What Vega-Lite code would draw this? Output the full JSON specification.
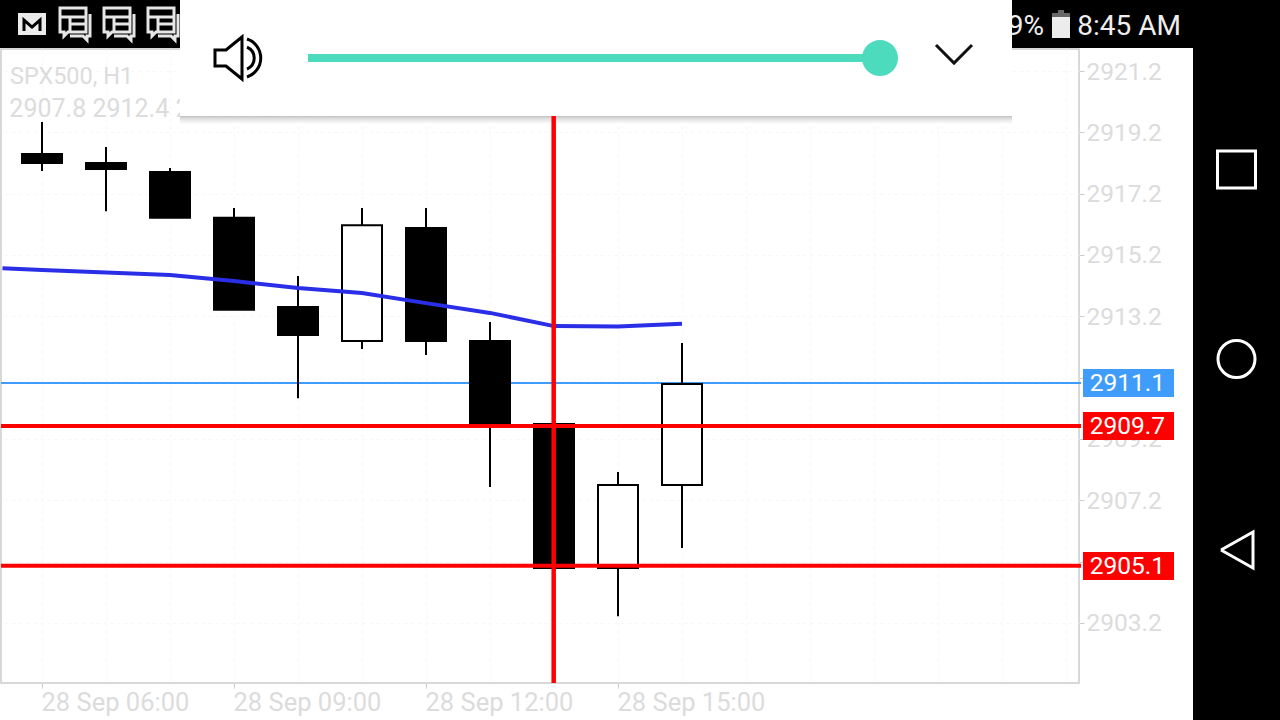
{
"$schema":"https://vega.github.io/schema/vega-lite/v6.json",
"width":1078,"height":634,
"autosize":{"type":"none"},
"padding":{"left":1,"top":49,"right":201,"bottom":37},
"background":"#ffffff",
"config":{"view":{"stroke":"#cccccc","strokeWidth":1.5},"text":{"font":"Roboto"}},
"datasets":{
"candles":[
{"hour":6,"open":2918.49,"high":2919.54,"low":2917.94,"close":2918.2},
{"hour":7,"open":2918.2,"high":2918.72,"low":2916.63,"close":2918.0},
{"hour":8,"open":2917.91,"high":2918.04,"low":2916.41,"close":2916.41},
{"hour":9,"open":2916.41,"high":2916.73,"low":2913.41,"close":2913.41},
{"hour":10,"open":2913.5,"high":2914.51,"low":2910.53,"close":2912.59},
{"hour":11,"open":2912.39,"high":2916.73,"low":2912.13,"close":2916.17},
{"hour":12,"open":2916.08,"high":2916.73,"low":2911.94,"close":2912.39},
{"hour":13,"open":2912.39,"high":2913.01,"low":2907.63,"close":2909.69},
{"hour":14,"open":2909.69,"high":2909.69,"low":2904.99,"close":2904.99},
{"hour":15,"open":2904.99,"high":2908.12,"low":2903.42,"close":2907.7},
{"hour":16,"open":2907.7,"high":2912.33,"low":2905.64,"close":2910.99}
],
"ma":[
{"hour":5.3828,"price":2914.77},
{"hour":6,"price":2914.71},
{"hour":7,"price":2914.63},
{"hour":8,"price":2914.55},
{"hour":9,"price":2914.35},
{"hour":10,"price":2914.12},
{"hour":11,"price":2913.96},
{"hour":12,"price":2913.63},
{"hour":13,"price":2913.31},
{"hour":14,"price":2912.88},
{"hour":15,"price":2912.87},
{"hour":16,"price":2912.96}
],
"levels":[
{"price":2911.02,"kind":"bid","hour":5.36,"hour2":22.234},
{"price":2909.62,"kind":"alert","hour":5.36,"hour2":22.234},
{"price":2905.06,"kind":"alert","hour":5.36,"hour2":22.234}
],
"crosshair":[{"hour":13.995,"low":2901.24,"high":2921.9}],
"under":[
{"part":"bar","hour":5.03125,"hour2":25.65625,"price":2924.168,"price2":2921.95},
{"part":"bar","hour":23.984375,"hour2":25.65625,"price":2924.168,"price2":2899.38},
{"part":"blue","hour":22.265625,"hour2":23.6875,"price":2911.48,"price2":2910.567},
{"part":"red","hour":22.265625,"hour2":23.6875,"price":2910.078,"price2":2909.165},
{"part":"red","hour":22.265625,"hour2":23.6875,"price":2905.512,"price2":2904.599},
{"part":"battery","hour":21.78125,"hour2":22.0625,"price":2922.961,"price2":2922.276},
{"part":"batterytop","hour":21.78125,"hour2":22.0625,"price":2923.092,"price2":2922.961},
{"part":"batterytop","hour":21.875,"hour2":21.96875,"price":2923.19,"price2":2923.092},
{"part":"battery","hour":5.625,"hour2":6.0625,"price":2923.092,"price2":2922.374}
],
"tags":[
{"hour":22.96,"price":2910.991,"label":"2911.1"},
{"hour":22.96,"price":2909.589,"label":"2909.7"},
{"hour":22.96,"price":2905.023,"label":"2905.1"}
],
"symbolText":[{"hour":5.5,"price":2921.004,"label":"SPX500, H1"}],
"ohlcText":[{"hour":5.49,"price":2919.961,"label":"2907.8 2912.4 2905.1 2911.1"}],
"mail":[{"hour":5.71875,"price":2922.505},{"hour":5.71875,"price":2922.863},{"hour":5.84375,"price":2922.635},{"hour":5.96875,"price":2922.863},{"hour":5.96875,"price":2922.505}],
"chats":[{"hour":6.484375,"price":2922.863},{"hour":7.171875,"price":2922.863},{"hour":7.859375,"price":2922.863}],
"panel":[{"hour":8.15625,"hour2":21.15625,"price":2924.168,"price2":2919.732}],
"shadow":[{"hour":8.15625,"hour2":21.15625,"price":2919.732,"price2":2919.471}],
"slider":[{"hour":10.15625,"hour2":19.09375,"price":2921.754,"price2":2921.494}],
"knob":[{"hour":19.09375,"price":2921.624}],
"speaker":[{"hour":9.0625,"price":2921.624}],
"chevron":[{"hour":19.96875,"price":2922.048},{"hour":20.25,"price":2921.461},{"hour":20.53125,"price":2922.048}],
"square":[{"hour":24.3671875,"hour2":24.9609375,"price":2918.591,"price2":2917.384}],
"circle":[{"hour":24.6640625,"price":2911.807}],
"triangle":[{"hour":24.421875,"price":2905.577},{"hour":24.921875,"price":2906.164},{"hour":24.921875,"price":2904.99},{"hour":24.421875,"price":2905.577}],
"status":[{"hour":21.65625,"price":2922.651,"label":"9%"},{"hour":23.796875,"price":2922.651,"label":"8:45 AM"}]
},
"encoding":{
 "x":{"field":"hour","type":"quantitative","title":null,"scale":{"domain":[5.359375,22.203125],"nice":false,"zero":false,"padding":0},
   "axis":{"title":null,"orient":"bottom","values":[6,7,8,9,10,11,12,13,14,15,16,17,18,19,20,21,22],"domain":false,"tickSize":5,"tickColor":"#cccccc","tickOpacity":{"condition":{"test":"datum.value % 3 == 0 && datum.value <= 15","value":1},"value":0},"labelExpr":"datum.value % 3 == 0 && datum.value <= 15 ? '28 Sep ' + (datum.value < 10 ? '0' : '') + datum.value + ':00' : ''","labelFont":"Roboto","labelFontSize":25.5,"labelColor":"#dcdcdc","labelAlign":"left","labelBaseline":"middle","labelPadding":14,"labelOffset":-1,"labelOverlap":false,"labelFlush":false,"grid":true,"gridColor":"#f6f6f6","gridDash":[3,4],"gridWidth":1}},
 "y":{"field":"price","type":"quantitative","title":null,"scale":{"domain":[2901.239,2921.918],"nice":false,"zero":false},
  "axis":{"title":null,"orient":"right","values":[2921.2,2919.2,2917.2,2915.2,2913.2,2911.2,2909.2,2907.2,2905.2,2903.2],"format":".1f","domain":false,"tickColor":"#cccccc","tickSize":5,"labelFont":"Roboto","labelFontSize":24.5,"labelColor":"#dcdcdc","labelPadding":2,"labelAlign":"left","labelBaseline":"middle","labelOffset":1,"labelOverlap":false,"grid":true,"gridColor":"#f6f6f6","gridDash":[3,4],"gridWidth":1}}
},
"layer":[
{"data":{"name":"levels"},"transform":[{"filter":"datum.kind == 'bid'"}],
 "mark":{"type":"rule","color":"#3f9cfa","strokeWidth":2},
 "encoding":{"x2":{"field":"hour2"}}},
{"data":{"name":"candles"},"mark":{"type":"rule","color":"#000000","strokeWidth":2},
 "encoding":{"y":{"field":"low","type":"quantitative","title":null},"y2":{"field":"high"}}},
{"data":{"name":"candles"},"mark":{"type":"bar","size":40,"stroke":"#000000","strokeWidth":2},
 "encoding":{"y":{"field":"open","type":"quantitative","title":null},"y2":{"field":"close"},
  "color":{"condition":{"test":"datum.close > datum.open","value":"#ffffff"},"value":"#000000"}}},
{"data":{"name":"ma"},"mark":{"type":"line","color":"#2a2ee6","strokeWidth":4}},
{"data":{"name":"levels"},"transform":[{"filter":"datum.kind == 'alert'"}],
 "mark":{"type":"rule","color":"#ff0000","strokeWidth":4},
 "encoding":{"x2":{"field":"hour2"}}},
{"data":{"name":"symbolText"},"mark":{"type":"text","align":"left","baseline":"middle","font":"Roboto","fontSize":23.5,"color":"#dcdcdc"},"encoding":{"text":{"field":"label"}}},
{"data":{"name":"ohlcText"},"mark":{"type":"text","align":"left","baseline":"middle","font":"Roboto","fontSize":25,"color":"#dcdcdc"},"encoding":{"text":{"field":"label"}}},
{"data":{"name":"under"},"mark":{"type":"rect"},
 "encoding":{"x2":{"field":"hour2"},"y2":{"field":"price2"},
 "color":{"field":"part","type":"nominal","legend":null,"scale":{"domain":["bar","blue","red","battery","batterytop"],"range":["#000000","#3f9cfa","#ff0000","#ececec","#666666"]}}}},
{"data":{"name":"tags"},"mark":{"type":"text","align":"center","baseline":"middle","font":"Roboto","fontSize":24.5,"color":"#ffffff"},"encoding":{"text":{"field":"label"}}},
{"data":{"name":"status"},"mark":{"type":"text","align":"right","baseline":"middle","font":"Roboto","fontSize":28,"color":"#eeeeee"},"encoding":{"text":{"field":"label"}}},
{"data":{"name":"mail"},"mark":{"type":"line","color":"#000000","strokeWidth":3}},
{"data":{"name":"chats"},"mark":{"type":"point","filled":false,"size":4,"opacity":1,"stroke":"#e6e6e6","strokeWidth":3,"shape":"M-13 -12 H13 V12 H-5 L-9 16 L-9 12 H-13 Z M17 -6 V16 H14 L14 20 L10 16 H-3 M-12 -3 H12 M-3 -3 V11 M-3 4 H12"}},
{"data":{"name":"shadow"},"mark":{"type":"rect","fill":{"x1":0,"y1":0,"x2":0,"y2":1,"gradient":"linear","stops":[{"offset":0,"color":"#bbbbbb"},{"offset":0.35,"color":"#dddddd"},{"offset":1,"color":"#ffffff"}]},"fillOpacity":0.9},
 "encoding":{"x2":{"field":"hour2"},"y2":{"field":"price2"}}},
{"data":{"name":"crosshair"},"mark":{"type":"rule","color":"#ff0000","strokeWidth":4.5},
 "encoding":{"y":{"field":"low","type":"quantitative","title":null},"y2":{"field":"high"}}},
{"data":{"name":"panel"},"mark":{"type":"rect","color":"#ffffff"},"encoding":{"x2":{"field":"hour2"},"y2":{"field":"price2"}}},
{"data":{"name":"slider"},"mark":{"type":"rect","color":"#4ddbbe"},"encoding":{"x2":{"field":"hour2"},"y2":{"field":"price2"}}},
{"data":{"name":"knob"},"mark":{"type":"point","shape":"circle","filled":true,"opacity":1,"color":"#4ddbbe","size":1296}},
{"data":{"name":"speaker"},"mark":{"type":"point","filled":false,"size":4,"opacity":1,"stroke":"#000000","strokeWidth":3,"shape":"M-23 -8 H-12 L4 -21 V21 L-12 8 H-23 Z M9 -19 A 20 20 0 0 1 9 19 M9 -11 A 12 12 0 0 1 9 11"}},
{"data":{"name":"chevron"},"mark":{"type":"line","color":"#111111","strokeWidth":3}},
{"data":{"name":"square"},"mark":{"type":"rect","fillOpacity":0,"stroke":"#ffffff","strokeWidth":3},"encoding":{"x2":{"field":"hour2"},"y2":{"field":"price2"}}},
{"data":{"name":"circle"},"mark":{"type":"point","shape":"circle","filled":false,"opacity":1,"color":"#ffffff","strokeWidth":3,"size":1369}},
{"data":{"name":"triangle"},"mark":{"type":"line","color":"#ffffff","strokeWidth":3,"order":false}}
]
}
